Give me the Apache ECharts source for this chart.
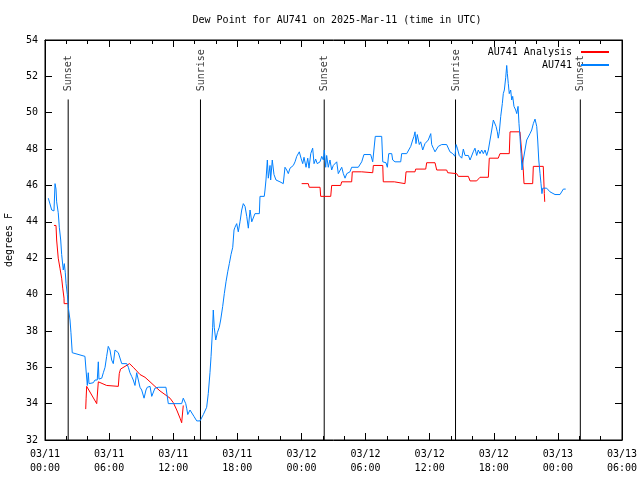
<!DOCTYPE html>
<html>
<head>
<meta charset="utf-8">
<script src="https://cdn.jsdelivr.net/npm/echarts@6/dist/echarts.min.js"></script>
<style>html,body{margin:0;padding:0;background:#fff}#c{width:640px;height:480px}</style>
</head>
<body>
<div id="c"></div>
<script>
// Hours since 03/11 00:00 UTC
var blueHours = [0.31,0.63,0.84,0.94,1.03,1.09,1.24,1.34,1.47,1.56,1.71,1.81,1.90,1.97,2.09,2.18,2.34,2.43,2.55,3.74,3.84,3.96,4.05,4.12,4.52,4.68,4.89,4.99,5.05,5.31,5.46,5.62,5.77,5.92,6.08,6.24,6.39,6.55,6.71,6.86,7.02,7.18,7.65,7.80,7.95,8.11,8.26,8.42,8.58,8.73,8.89,9.05,9.27,9.45,9.57,9.83,9.99,10.29,10.60,11.32,11.54,12.79,12.94,13.01,13.17,13.26,13.36,13.57,13.73,13.94,14.20,14.51,14.82,15.13,15.28,15.44,15.54,15.69,15.75,15.84,15.98,16.13,16.31,16.44,16.63,16.78,16.94,17.10,17.25,17.41,17.57,17.69,17.78,17.94,18.09,18.25,18.41,18.56,18.72,18.88,19.03,19.19,19.35,19.49,19.65,20.06,20.12,20.52,20.59,20.68,20.81,20.90,21.06,21.12,21.27,21.43,21.62,21.99,22.30,22.46,22.62,22.77,22.93,23.24,23.40,23.56,23.80,23.96,24.12,24.24,24.43,24.59,24.71,24.87,25.05,25.18,25.33,25.48,25.74,25.90,26.05,26.14,26.27,26.36,26.51,26.67,26.83,26.98,27.30,27.45,27.77,27.92,28.08,28.24,28.54,28.70,29.32,29.64,29.85,30.48,30.67,30.79,30.91,31.51,31.61,31.91,32.04,32.17,32.45,32.54,32.76,33.29,33.38,33.85,34.00,34.23,34.41,34.53,34.63,34.72,34.84,35.03,35.16,35.35,35.56,35.87,36.10,36.19,36.34,36.50,36.81,37.13,37.59,37.74,37.90,38.16,38.37,38.47,38.59,38.77,38.84,39.00,39.15,39.31,39.47,39.62,39.78,39.93,40.08,40.24,40.40,40.55,40.71,40.87,41.02,41.18,41.34,41.49,41.65,41.81,41.96,42.12,42.21,42.33,42.42,42.52,42.65,42.80,42.89,42.99,43.12,43.21,43.27,43.36,43.45,43.58,43.68,43.77,43.89,44.05,44.15,44.27,44.36,44.45,44.55,44.64,44.76,44.92,45.08,45.23,45.39,45.55,45.70,45.86,46.02,46.11,46.21,46.33,46.42,46.51,46.58,46.70,46.95,47.26,47.73,48.20,48.51,48.73];
var blueValues = [45.3,44.65,44.6,46.1,45.8,45.1,44.5,43.7,43.0,42.2,41.35,41.7,41.2,40.6,40.0,39.3,38.6,37.9,36.8,36.6,35.85,35.0,35.7,35.1,35.15,35.3,35.3,36.3,35.35,35.4,35.7,36.0,36.6,37.15,36.95,36.4,36.2,36.95,36.85,36.8,36.85,36.2,36.2,36.0,35.7,35.5,35.3,35.0,35.7,35.7,34.9,34.75,34.3,34.75,34.9,34.95,34.4,34.85,34.9,34.9,34.0,34.0,34.3,34.35,34.0,33.75,33.4,33.65,33.55,33.3,33.05,33.05,33.4,33.8,34.55,35.7,36.6,38.2,39.15,38.2,37.5,37.9,38.2,38.6,39.35,40.05,40.7,41.25,41.7,42.2,42.6,43.55,43.7,43.9,43.45,44.0,44.65,45.0,44.85,44.3,43.65,44.65,44.0,44.1,44.45,44.45,45.4,45.4,45.75,46.3,47.4,46.4,47.1,46.3,47.4,46.6,46.3,46.2,46.1,47.0,46.85,46.65,46.95,47.1,47.3,47.6,47.85,47.5,47.2,47.55,47.0,47.5,46.95,47.75,48.05,47.2,47.45,47.2,47.3,47.6,47.4,47.95,47.0,47.65,47.0,47.4,46.85,47.1,47.3,46.65,47.0,46.65,46.4,46.65,46.75,47.0,47.0,47.3,47.7,47.7,47.3,47.3,48.7,48.7,47.3,47.25,47.0,47.75,47.75,47.4,47.3,47.3,47.75,47.75,47.85,48.15,48.5,48.7,48.95,48.3,48.8,48.25,48.4,47.95,48.3,48.5,48.85,48.25,48.05,47.85,48.15,48.25,48.25,48.15,47.85,47.75,47.6,48.25,48.05,47.65,47.65,47.5,48.0,47.65,47.75,47.65,47.4,47.4,47.85,48.05,47.65,47.95,47.75,47.95,47.75,47.95,47.65,47.95,48.5,49.05,49.6,49.7,49.25,48.95,48.6,48.95,49.8,50.5,51.05,51.25,51.95,52.6,52.15,51.6,51.05,51.25,50.7,50.9,50.35,50.15,49.95,50.35,49.4,48.7,47.75,46.85,47.4,47.95,48.5,48.4,48.85,49.05,49.4,49.65,49.25,48.5,47.4,46.65,46.1,45.55,45.85,45.95,45.85,45.65,45.5,45.5,45.8,45.8];

var redHoursA = [0.84,1.03,1.09,1.24,1.40,1.56,1.66,1.78,1.79,2.18];
var redValuesA = [43.8,43.8,43.0,42.0,41.45,40.9,40.35,39.8,39.5,39.5];
var redHoursB = [3.81,3.85,3.90,4.84,4.99,5.15,5.77,6.86,6.95,7.07,7.49,7.91,8.26,8.58,8.89,9.36,9.83,10.29,10.76,11.23,11.70,12.01,12.33,12.64,12.79,12.90,12.94];
var redValuesB = [33.7,34.3,34.95,34.0,35.2,35.15,35.0,34.95,35.65,35.9,36.05,36.2,36.0,35.8,35.6,35.45,35.2,34.95,34.7,34.5,34.3,34.05,33.65,33.2,32.95,32.95,33.9];
var redHoursC = [24.02,24.64,24.73,25.74,25.80,26.74,26.83,27.67,27.77,28.70,28.76,29.64,29.73,30.67,30.73,31.61,31.66,32.69,32.76,33.69,33.79,34.63,34.69,35.63,35.72,36.50,36.66,37.59,37.69,38.53,38.68,39.62,39.78,40.40,40.71,41.49,41.58,42.42,42.58,43.45,43.52,44.45,44.76,44.83,45.64,45.70,46.63,46.73,46.77];
var redValuesC = [46.1,46.1,45.9,45.9,45.4,45.4,46.0,46.0,46.2,46.2,46.75,46.75,46.7,46.7,47.1,47.1,46.2,46.2,46.1,46.1,46.75,46.75,46.9,46.9,47.25,47.25,46.85,46.85,46.7,46.65,46.5,46.5,46.25,46.25,46.45,46.45,47.5,47.5,47.75,47.75,48.95,48.95,46.85,46.1,46.1,47.05,47.05,45.55,45.1];

var sunNames = ['Sunset','Sunrise','Sunset','Sunrise','Sunset'];
var sunHours = [2.17,14.55,26.13,38.42,50.1];

var xTickHours = [0,6,12,18,24,30,36,42,48,54];
var yTicks = [32,34,36,38,40,42,44,46,48,50,52,54];

function zip(a,b){return a.map(function(v,i){return [v,b[i]];});}

var FONT = '"DejaVu Sans Mono", monospace';
var series = [];
function lineSeries(name, data, color, z){
  return {name:name, type:'line', data:data, showSymbol:false, symbol:'none', legendIcon:'rect',
    lineStyle:{color:color, width:1}, itemStyle:{color:color}, animation:false, z:z};
}
series.push(lineSeries('AU741 Analysis', zip(redHoursA, redValuesA), '#ff0000', 3));
series.push(lineSeries('AU741 Analysis', zip(redHoursB, redValuesB), '#ff0000', 3));
series.push(lineSeries('AU741 Analysis', zip(redHoursC, redValuesC), '#ff0000', 3));
series.push(lineSeries('AU741', zip(blueHours, blueValues), '#0080ff', 4));

sunHours.forEach(function(h, i){
  series.push({type:'line', data:[[h,32],[h,50.73]], showSymbol:false, symbol:'none', silent:true, lineStyle:{color:'#000', width:1}, animation:false, z:2});
});
series.push({type:'scatter', symbolSize:1, itemStyle:{color:'rgba(0,0,0,0)'}, silent:true, animation:false,
  data: sunHours.map(function(h,i){return {value:[h,51.15], name:sunNames[i]};}),
  label:{show:true, formatter:function(p){return p.name;}, position:[1,0], rotate:90, align:'left', verticalAlign:'middle', color:'#000', fontFamily:FONT, fontSize:10}
});

function fmtX(h){
  var day = 11 + Math.floor(h/24);
  var hr = h % 24;
  return '03/' + (day<10?'0':'') + day + '\n' + (hr<10?'0':'') + hr + ':00';
}

var legendCommon = {right:30, padding:0, align:'right', itemWidth:28, itemHeight:1, itemGap:0,
  textStyle:{fontFamily:FONT, fontSize:10, color:'#000', padding:[0,4,0,0]}};

var chart = echarts.init(document.getElementById('c'), null, {renderer:'canvas'});
chart.setOption({
  animation:false,
  backgroundColor:'#fff',
  textStyle:{fontFamily:FONT},
  title:{text:'Dew Point for AU741 on 2025-Mar-11 (time in UTC)', left:332, top:10, textAlign:'center', textStyle:{fontFamily:FONT, fontSize:10, fontWeight:'normal', color:'#000'}},
  grid:{left:45, right:18, top:40, bottom:40, containLabel:false, outerBoundsMode:'none', show:true, borderColor:'#000', borderWidth:1, backgroundColor:'transparent'},
  legend:[
    Object.assign({data:['AU741 Analysis'], top:47}, legendCommon),
    Object.assign({data:['AU741'], top:60}, legendCommon)
  ],
  xAxis:[
    {type:'value', min:xTickHours[0], max:xTickHours[xTickHours.length-1], interval:6, position:'bottom',
     axisLine:{show:true, onZero:false, lineStyle:{color:'#000'}},
     axisTick:{show:true, inside:true, length:7, lineStyle:{color:'#000'}},
     minorTick:{show:true, splitNumber:3, length:4, lineStyle:{color:'#000'}},
     splitLine:{show:false},
     axisLabel:{formatter:fmtX, color:'#000', fontFamily:FONT, fontSize:10, lineHeight:14, margin:7, showMinLabel:true, showMaxLabel:true, hideOverlap:false}},
    {type:'value', min:0, max:54, interval:6, position:'top',
     axisLine:{show:true, onZero:false, lineStyle:{color:'#000'}},
     axisTick:{show:true, inside:true, length:7, lineStyle:{color:'#000'}},
     minorTick:{show:true, splitNumber:3, length:4, lineStyle:{color:'#000'}},
     splitLine:{show:false}, axisLabel:{show:false}}
  ],
  yAxis:[
    {type:'value', min:yTicks[0], max:yTicks[yTicks.length-1], interval:2, position:'left',
     name:'degrees F', nameLocation:'middle', nameGap:31, nameRotate:90, nameTextStyle:{fontFamily:FONT, fontSize:10, color:'#000'},
     axisLine:{show:true, onZero:false, lineStyle:{color:'#000'}},
     axisTick:{show:true, inside:true, length:7, lineStyle:{color:'#000'}},
     splitLine:{show:false},
     axisLabel:{color:'#000', fontFamily:FONT, fontSize:10, margin:7}},
    {type:'value', min:32, max:54, interval:2, position:'right',
     axisLine:{show:true, onZero:false, lineStyle:{color:'#000'}},
     axisTick:{show:true, inside:true, length:7, lineStyle:{color:'#000'}},
     splitLine:{show:false}, axisLabel:{show:false}}
  ],
  series: series
});
</script>
</body>
</html>
